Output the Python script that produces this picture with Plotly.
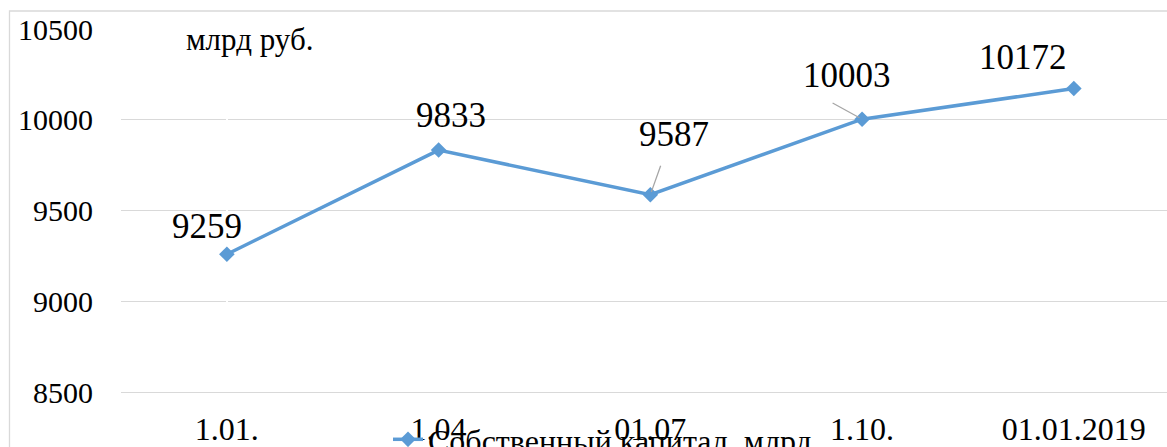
import plotly.graph_objects as go

categories = ["1.01.", "1.04", "01.07", "1.10.", "01.01.2019"]
values = [9259, 9833, 9587, 10003, 10172]
series_name = "Собственный капитал, млрд"
unit_label = "млрд руб."
y_ticks = [8500, 9000, 9500, 10000, 10500]

# label offsets (px) relative to each point, and which labels get leader lines
label_dx = [-20, 12, 24, -15, -51]
label_dy = [28, 35, 60, 44, 31]
leader = [None, None, (11, -31), (-31, -17), None]

FONT = "Liberation Serif"
BLUE = "#5B9BD5"
GRID = "#D9D9D9"

idx = list(range(len(categories)))

fig = go.Figure()
fig.add_trace(go.Scatter(
    x=idx, y=values, mode="lines+markers", name=series_name,
    line=dict(color=BLUE, width=3.5),
    marker=dict(symbol="diamond", size=12, color=BLUE),
))

annotations = []
for i, v, dx, dy, ld in zip(idx, values, label_dx, label_dy, leader):
    annotations.append(dict(
        x=i, y=v, xref="x", yref="y", text=str(v), showarrow=False,
        xshift=dx, yshift=dy, font=dict(family=FONT, size=35, color="#000000"),
    ))
    if ld is not None:
        annotations.append(dict(
            x=i, y=v, xref="x", yref="y", text=" ", showarrow=True,
            ax=ld[0], ay=ld[1], arrowhead=0, arrowwidth=1.3, arrowcolor="#A6A6A6",
            standoff=3, font=dict(size=1),
        ))

annotations.append(dict(
    x=(184 - 121) / 1046, y=(392 - 40) / 363, xref="paper", yref="paper",
    xanchor="left", yanchor="middle", text=unit_label, showarrow=False,
    font=dict(family=FONT, size=31, color="#000000"),
))

fig.update_layout(
    width=1167, height=447,
    margin=dict(l=121, r=0, t=29, b=55, autoexpand=False),
    paper_bgcolor="white", plot_bgcolor="white",
    font=dict(family=FONT, color="#000000"),
    showlegend=True,
    legend=dict(
        orientation="h", x=(388 - 121) / 1046, y=(392 - 412) / 363,
        xanchor="left", yanchor="top", font=dict(family=FONT, size=32, color="#000000"),
        bgcolor="rgba(0,0,0,0)",
    ),
    annotations=annotations,
    shapes=[dict(
        type="rect", xref="paper", yref="paper",
        x0=(9.5 - 121) / 1046, x1=1.05, y0=-0.3, y1=(392 - 11) / 363,
        line=dict(color="#D9D9D9", width=1.3), fillcolor="rgba(0,0,0,0)", layer="below",
    )],
    xaxis=dict(
        range=[-0.5, 4.44], tickvals=idx, ticktext=categories,
        showgrid=False, showline=True, linecolor=GRID, linewidth=1.3,
        ticks="", tickfont=dict(family=FONT, size=32, color="#000000"),
        ticklabelstandoff=8,
    ),
    yaxis=dict(
        range=[8500, 10500], tickvals=y_ticks, ticktext=[str(t) for t in y_ticks],
        showgrid=True, gridcolor=GRID, gridwidth=1.3,
        zeroline=False, showline=False, ticks="",
        tickfont=dict(family=FONT, size=30, color="#000000"), ticklabelstandoff=27,
    ),
)

fig.write_html(
    "out.html",
    config={"displayModeBar": False},
    post_script="document.body.style.margin='0';document.body.style.overflow='hidden';",
)
